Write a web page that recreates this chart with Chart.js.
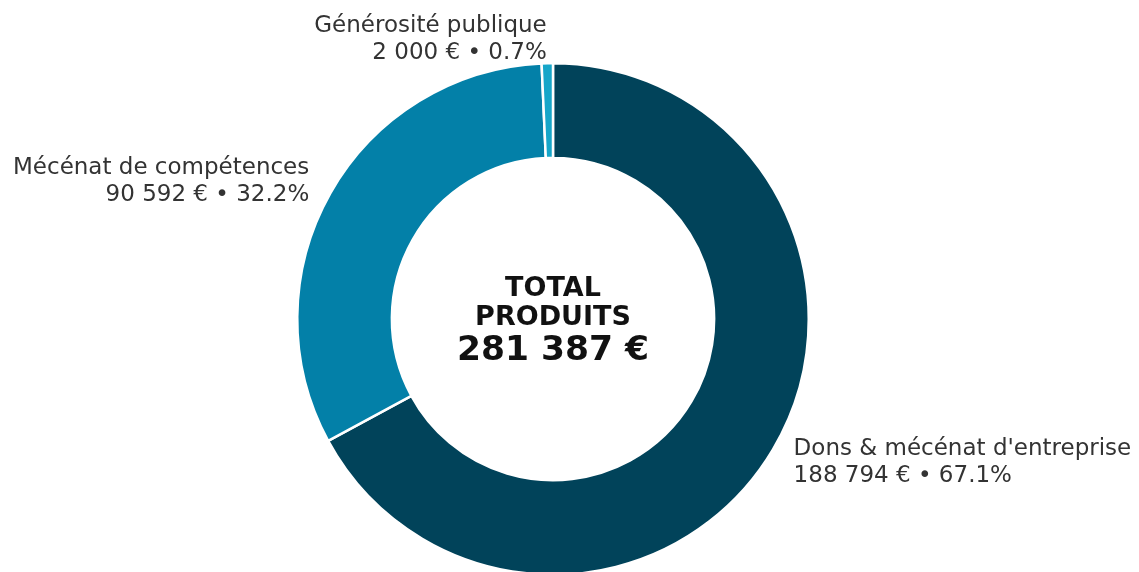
<!DOCTYPE html>
<html>
<head>
<meta charset="utf-8">
<script src="https://cdn.jsdelivr.net/npm/chart.js@4"></script>
<style>
  html, body { margin: 0; padding: 0; background: #fff; overflow: hidden; }
  #wrap { width: 1139px; height: 580px; position: relative; }
</style>
</head>
<body>
<div id="wrap"><canvas id="myChart"></canvas></div>
<script>
// data
var labels = ["Dons & mécénat d'entreprise", "Mécénat de compétences", "Générosité publique"];
var amounts = [188794, 90592, 2000];
var amountText = ["188 794 €", "90 592 €", "2 000 €"];
var pctText = ["67.1%", "32.2%", "0.7%"];
var colors = ["#01435a", "#0380a8", "#16a6c9"];
var centerLines = ["TOTAL", "PRODUITS", "281 387 €"];

// labels outside each slice, at 1.1 x radius on the mid angle
var sliceLabels = {
  id: 'sliceLabels',
  afterDraw: function(chart) {
    var ctx = chart.ctx;
    var meta = chart.getDatasetMeta(0);
    ctx.save();
    ctx.font = '23px "DejaVu Sans"';
    ctx.fillStyle = '#333333';
    ctx.textBaseline = 'middle';
    meta.data.forEach(function(arc, i) {
      var mid = (arc.startAngle + arc.endAngle) / 2;
      var r = arc.outerRadius * 1.095;
      var x = arc.x + Math.cos(mid) * r;
      var y = arc.y + Math.sin(mid) * r;
      ctx.textAlign = x > arc.x ? 'left' : 'right';
      ctx.fillText(labels[i], x, y - 13);
      ctx.fillText(amountText[i] + ' \u2022 ' + pctText[i], x, y + 14);
    });
    // centre text
    var cx = meta.data[0].x, cy = meta.data[0].y;
    ctx.fillStyle = '#111111';
    ctx.textAlign = 'center';
    ctx.textBaseline = 'alphabetic';
    ctx.font = 'bold 27px "DejaVu Sans"';
    ctx.fillText(centerLines[0], cx, cy - 23);
    ctx.fillText(centerLines[1], cx, cy + 6);
    ctx.font = 'bold 34.5px "DejaVu Sans"';
    ctx.fillText(centerLines[2], cx, cy + 41);
    ctx.restore();
  }
};

var ctx = document.getElementById('myChart').getContext('2d');
var chart = new Chart(ctx, {
  type: 'doughnut',
  data: {
    labels: labels,
    datasets: [{
      data: amounts,
      backgroundColor: colors,
      borderColor: '#ffffff',
      borderWidth: 2.5
    }]
  },
  options: {
    responsive: true,
    maintainAspectRatio: false,
    animation: false,
    cutout: '63%',
    layout: { padding: { left: 296, right: 329, top: 62, bottom: 4 } },
    plugins: {
      legend: { display: false },
      tooltip: { enabled: false }
    }
  },
  plugins: [sliceLabels]
});
</script>
</body>
</html>
